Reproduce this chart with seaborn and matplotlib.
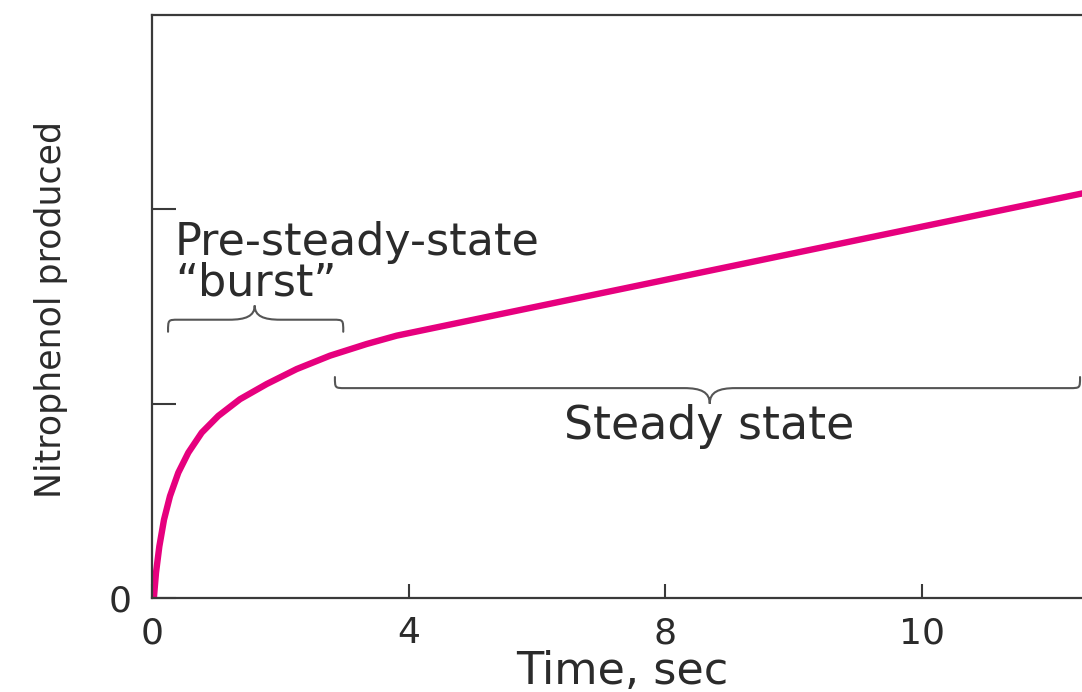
import matplotlib
matplotlib.use("Agg")
import matplotlib.pyplot as plt
from matplotlib.path import Path
from matplotlib.patches import PathPatch
import seaborn as sns
import pandas as pd

# Values (time in axis units, product in tick units)
time_sec = [0.0, 0.031, 0.062, 0.114, 0.187, 0.280, 0.410, 0.566, 0.775, 1.033,
            1.371, 1.787, 2.254, 2.774, 3.345, 3.813, 6.0, 8.0, 10.0, 12.0, 14.6]
nitrophenol = [0.0, 0.007, 0.129, 0.265, 0.403, 0.524, 0.645, 0.748, 0.851, 0.937,
               1.023, 1.101, 1.178, 1.247, 1.307, 1.350, 1.500, 1.637, 1.774, 1.911, 2.089]

x_ticks = [0, 4, 8, 12]
x_tick_labels = ["0", "4", "8", "10"]
y_ticks = [0, 1, 2]
y_tick_labels = ["0", "", ""]

df = pd.DataFrame({"time": time_sec, "product": nitrophenol})

INK = "#2b2b2b"
PINK = "#e6007e"


def draw_brace(ax, x0, x1, y_end, y_bar, x_tip, y_tip, rx=0.16, tw=0.40):
    verts = [
        (x0, y_end),
        (x0, y_bar), (x0, y_bar), (x0 + rx, y_bar),
        (x_tip - tw, y_bar),
        (x_tip - tw * 0.35, y_bar), (x_tip, y_bar + (y_tip - y_bar) * 0.25), (x_tip, y_tip),
        (x_tip, y_bar + (y_tip - y_bar) * 0.25), (x_tip + tw * 0.35, y_bar), (x_tip + tw, y_bar),
        (x1 - rx, y_bar),
        (x1, y_bar), (x1, y_bar), (x1, y_end),
    ]
    codes = [Path.MOVETO,
             Path.CURVE4, Path.CURVE4, Path.CURVE4,
             Path.LINETO,
             Path.CURVE4, Path.CURVE4, Path.CURVE4,
             Path.CURVE4, Path.CURVE4, Path.CURVE4,
             Path.LINETO,
             Path.CURVE4, Path.CURVE4, Path.CURVE4]
    ax.add_patch(PathPatch(Path(verts, codes), fill=False, edgecolor="#555555",
                           lw=1.5, capstyle="round", clip_on=False))


sns.set_style("white")
plt.rcParams["font.family"] = ["DejaVu Sans"]

fig = plt.figure(figsize=(10.82, 6.92), dpi=100)
ax = fig.add_axes([0.14048, 0.13584, 0.88974, 0.84249])

sns.lineplot(data=df, x="time", y="product", color=PINK, lw=4.6, ax=ax,
             sort=False, estimator=None)

ax.set_xlim(0, 15)
ax.set_ylim(0, 3)

ax.set_xticks(x_ticks)
ax.set_xticklabels(x_tick_labels)
ax.set_yticks(y_ticks)
ax.set_yticklabels(y_tick_labels)

ax.tick_params(axis="x", bottom=True, direction="in", length=10, width=1.5, pad=13,
               labelsize=26, colors="#3a3a3a", labelcolor=INK)
ax.tick_params(axis="y", left=True, direction="in", length=17, width=1.5, pad=15,
               labelsize=26, colors="#3a3a3a", labelcolor=INK)

for side in ["left", "bottom", "top"]:
    ax.spines[side].set_color("#3a3a3a")
    ax.spines[side].set_linewidth(1.6)
ax.spines["right"].set_visible(False)

ax.set_xlabel("Time, sec", fontsize=32, color=INK)
ax.xaxis.label.set_va("baseline")
ax.xaxis.set_label_coords(0.488, -0.1475)
ax.set_ylabel("Nitrophenol produced", fontsize=25, color=INK)
ax.yaxis.set_label_coords(-0.087, 0.494)

# annotations
ax.text(0.36, 1.556, "Pre-steady-state\n\u201cburst\u201d", fontsize=32, color=INK,
        ha="left", va="baseline", linespacing=0.94)
ax.text(8.68, 0.817, "Steady state", fontsize=33, color=INK,
        ha="center", va="baseline")

draw_brace(ax, 0.25, 2.98, 1.37, 1.432, 1.60, 1.505)
draw_brace(ax, 2.85, 14.46, 1.137, 1.080, 8.69, 1.00)

fig.savefig("out.png", dpi=100)
